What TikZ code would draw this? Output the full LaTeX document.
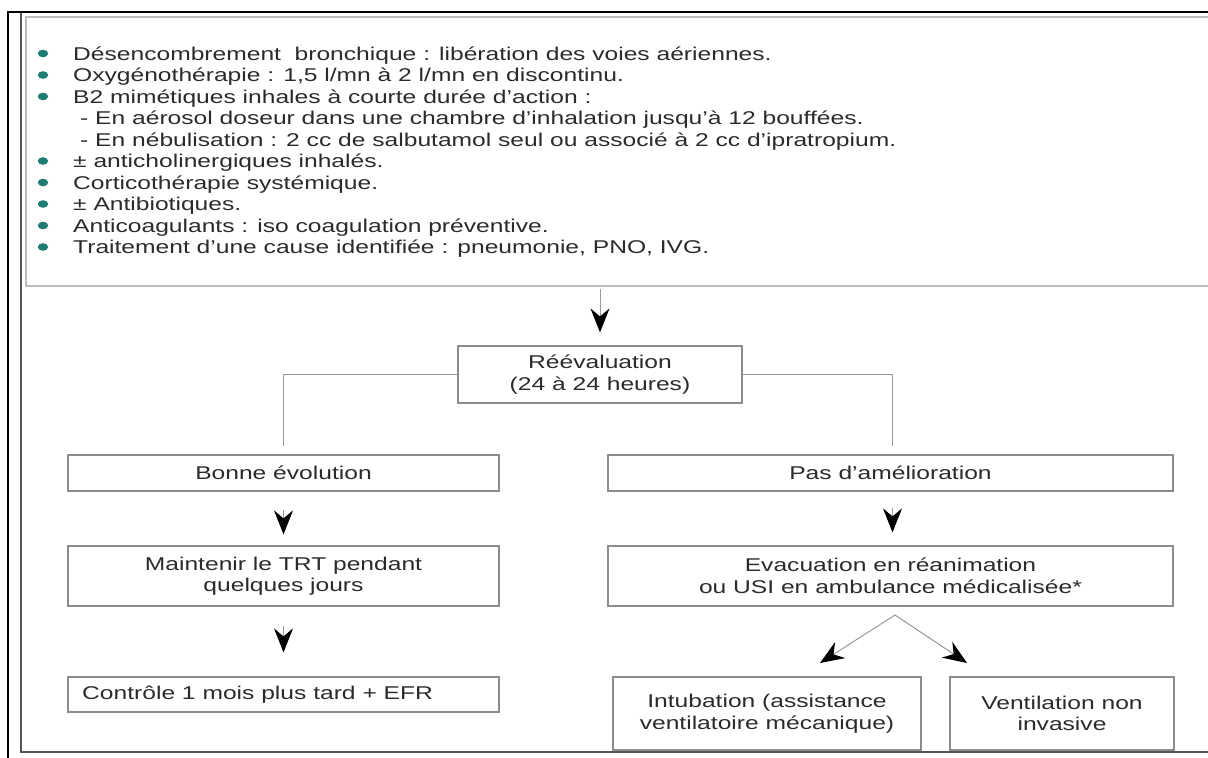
\documentclass[tikz,border=0pt]{standalone}
\usepackage{fontspec}
\setmainfont{Liberation Sans}[FakeStretch=1.33]
\usetikzlibrary{arrows.meta,calc}
\definecolor{texte}{HTML}{2B2B2B}
\definecolor{cadre}{HTML}{8C8C8C}
\definecolor{cadreclair}{HTML}{BDBDBD}
\definecolor{trait}{HTML}{9A9A9A}
\definecolor{sarcelle}{HTML}{1F7C72}
\definecolor{bordsombre}{HTML}{555555}
\begin{document}
\begin{tikzpicture}[x=1pt,y=-1pt,
  police/.style={font=\fontsize{18.5}{21.5}\selectfont, text=texte},
  boite/.style={police, draw=cadre, line width=1.2pt, align=center, inner sep=0pt},
  ligne/.style={police, anchor=base west, inner sep=0pt},
  connecteur/.style={draw=trait, line width=1pt},
  fleche/.style={draw=trait, line width=1pt,
    -{Stealth[length=24pt,width=19pt,inset=8pt,color=black]}}
]
\useasboundingbox (0,0) rectangle (1208,758);
\fill[white] (0,0) rectangle (1208,758);

% page frame
\draw[black, line width=2.2pt] (8,758) -- (8,12) -- (1208,12);
\draw[bordsombre, line width=2.4pt] (21,13) -- (21,752) -- (1208,752);

% treatment list box, open on the right where it runs off the page
\draw[cadreclair, line width=2pt] (1208,17) -- (26,17) -- (26,286) -- (1208,286);
\coordinate (traitement) at (600,286);

% list bullets
\foreach \b in {60,81.5,103,167.5,189,210.5,232,253.5}{
  \fill[sarcelle] (43,\b-6.5) ellipse (5.2pt and 3.8pt);
}
% list items
\node[ligne] (l1) at (73,60) {Désencombrement\ \ bronchique : libération des voies aériennes.};
\node[ligne] (l2) at (73,81.5) {Oxygénothérapie : 1,5 l/mn à 2 l/mn en discontinu.};
\node[ligne] (l3) at (73,103) {B2 mimétiques inhales à courte durée d’action :};
\node[ligne] (l4) at (80,124.5) {- En aérosol doseur dans une chambre d’inhalation jusqu’à 12 bouffées.};
\node[ligne] (l5) at (80,146) {- En nébulisation : 2 cc de salbutamol seul ou associé à 2 cc d’ipratropium.};
\node[ligne] (l6) at (73,167.5) {± anticholinergiques inhalés.};
\node[ligne] (l7) at (73,189) {Corticothérapie systémique.};
\node[ligne] (l8) at (73,210.5) {± Antibiotiques.};
\node[ligne] (l9) at (73,232) {Anticoagulants : iso coagulation préventive.};
\node[ligne] (l10) at (73,253.5) {Traitement d’une cause identifiée : pneumonie, PNO, IVG.};

% decision boxes
\node[boite, minimum width=284pt, minimum height=57pt] (reeval) at (600,374.5)
  {Réévaluation\\(24 à 24 heures)};
\node[boite, minimum width=431pt, minimum height=36pt] (bonne) at (283.5,473)
  {Bonne évolution};
\node[boite, minimum width=565pt, minimum height=36pt] (pas) at (890.5,473)
  {Pas d’amélioration};
\node[boite, minimum width=431pt, minimum height=60pt] (maintenir) at (283.5,576)
  {Maintenir le TRT pendant\\quelques jours};
\node[boite, minimum width=565pt, minimum height=60pt] (evac) at (890.5,576)
  {Evacuation en réanimation\\ou USI en ambulance médicalisée*};
\node[boite, minimum width=431pt, minimum height=35pt] (controle) at (283.5,694.5) {};
\node[police, anchor=west, inner sep=0pt] (controletxt) at (82,694.5)
  {Contrôle 1 mois plus tard + EFR};
\node[boite, minimum width=308pt, minimum height=73pt] (intub) at (767,713.5)
  {Intubation (assistance\\ventilatoire mécanique)};
\node[boite, minimum width=224pt, minimum height=73pt] (vni) at (1062,713.5)
  {Ventilation non\\invasive};

% connectors
\draw[fleche, shorten <=3pt, shorten >=13pt] (traitement) -- (reeval.north);
\draw[connecteur] (reeval.west) -| ([yshift=8pt]bonne.north);
\draw[connecteur] (reeval.east) -| ([yshift=8pt,xshift=1.5pt]pas.north);
\draw[fleche, shorten <=18pt, shorten >=11pt] (bonne.south) -- (maintenir.north);
\draw[fleche, shorten <=16pt, shorten >=13pt] ([xshift=2pt]pas.south) -- ([xshift=2pt]evac.north);
\draw[fleche, shorten <=19pt, shorten >=24pt] (maintenir.south) -- (controle.north);

\coordinate (fourche) at (895,615);
\coordinate (pointeG) at (820,663);
\coordinate (pointeD) at (967,663);
\draw[fleche] (fourche) -- (pointeG);
\draw[fleche] (fourche) -- (pointeD);
\end{tikzpicture}
\end{document}
